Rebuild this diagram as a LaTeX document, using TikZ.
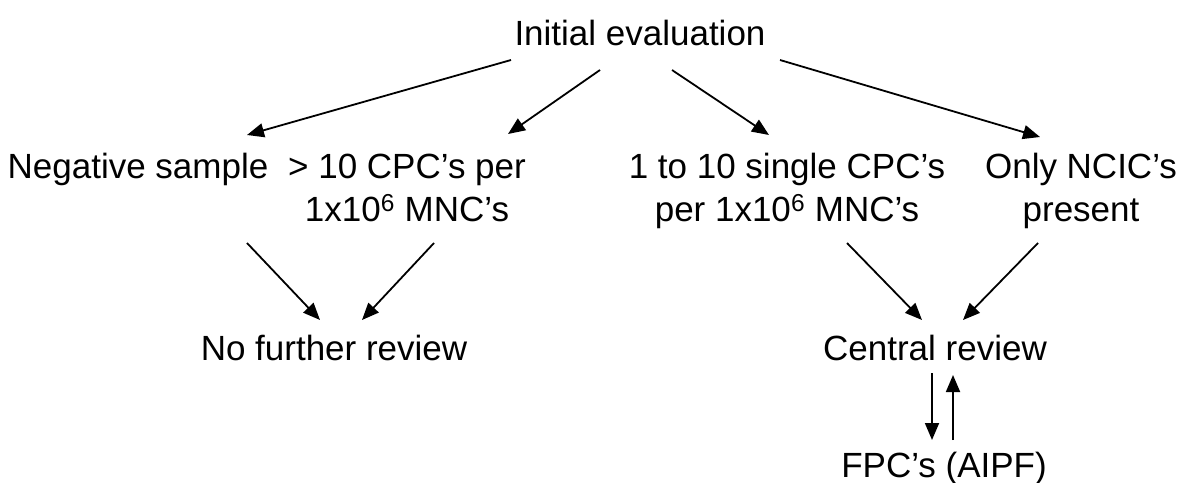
\documentclass[tikz,border=0pt]{standalone}
\usepackage{fontspec}
\setmainfont{Liberation Sans}
\usetikzlibrary{arrows.meta}
\begin{document}
\begin{tikzpicture}[x=1pt,y=-1pt,
  lbl/.style={inner sep=0pt, align=center, font=\fontsize{35}{43}\selectfont, anchor=base},
  arr/.style={line width=1.8pt, -{Triangle[length=17pt,width=14pt]}}]
\useasboundingbox (0,0) rectangle (1188,482);
\node[lbl] (init) at (640,45) {Initial evaluation};
\node[lbl] (neg) at (138,178) {Negative sample};
\node[lbl] (gt) at (407,221) {> 10 CPC’s per\\1x10\textsuperscript{6} MNC’s};
\node[lbl] (one) at (787,221) {1 to 10 single CPC’s\\per 1x10\textsuperscript{6} MNC’s};
\node[lbl] (only) at (1081,221) {Only NCIC’s\\present};
\node[lbl] (nofur) at (334,360) {No further review};
\node[lbl] (central) at (935,360) {Central review};
\node[lbl] (fpc) at (944,477) {FPC’s (AIPF)};
\coordinate (a1s) at (511,60);  \coordinate (a1e) at (247,135);
\coordinate (a2s) at (600,70);  \coordinate (a2e) at (508,134);
\coordinate (a3s) at (672,70);  \coordinate (a3e) at (769,135);
\coordinate (a4s) at (780,60);  \coordinate (a4e) at (1040,137);
\coordinate (b1s) at (247,243); \coordinate (b1e) at (320,320);
\coordinate (b2s) at (434,243); \coordinate (b2e) at (362,320);
\coordinate (b3s) at (847,243); \coordinate (b3e) at (922,320);
\coordinate (b4s) at (1038,243); \coordinate (b4e) at (963,320);
\coordinate (c1s) at (932,373); \coordinate (c1e) at (932,440);
\coordinate (c2s) at (953,440); \coordinate (c2e) at (953,375);
\draw[arr] (a1s) -- (a1e);
\draw[arr] (a2s) -- (a2e);
\draw[arr] (a3s) -- (a3e);
\draw[arr] (a4s) -- (a4e);
\draw[arr] (b1s) -- (b1e);
\draw[arr] (b2s) -- (b2e);
\draw[arr] (b3s) -- (b3e);
\draw[arr] (b4s) -- (b4e);
\draw[arr] (c1s) -- (c1e);
\draw[arr] (c2s) -- (c2e);
\end{tikzpicture}
\end{document}
